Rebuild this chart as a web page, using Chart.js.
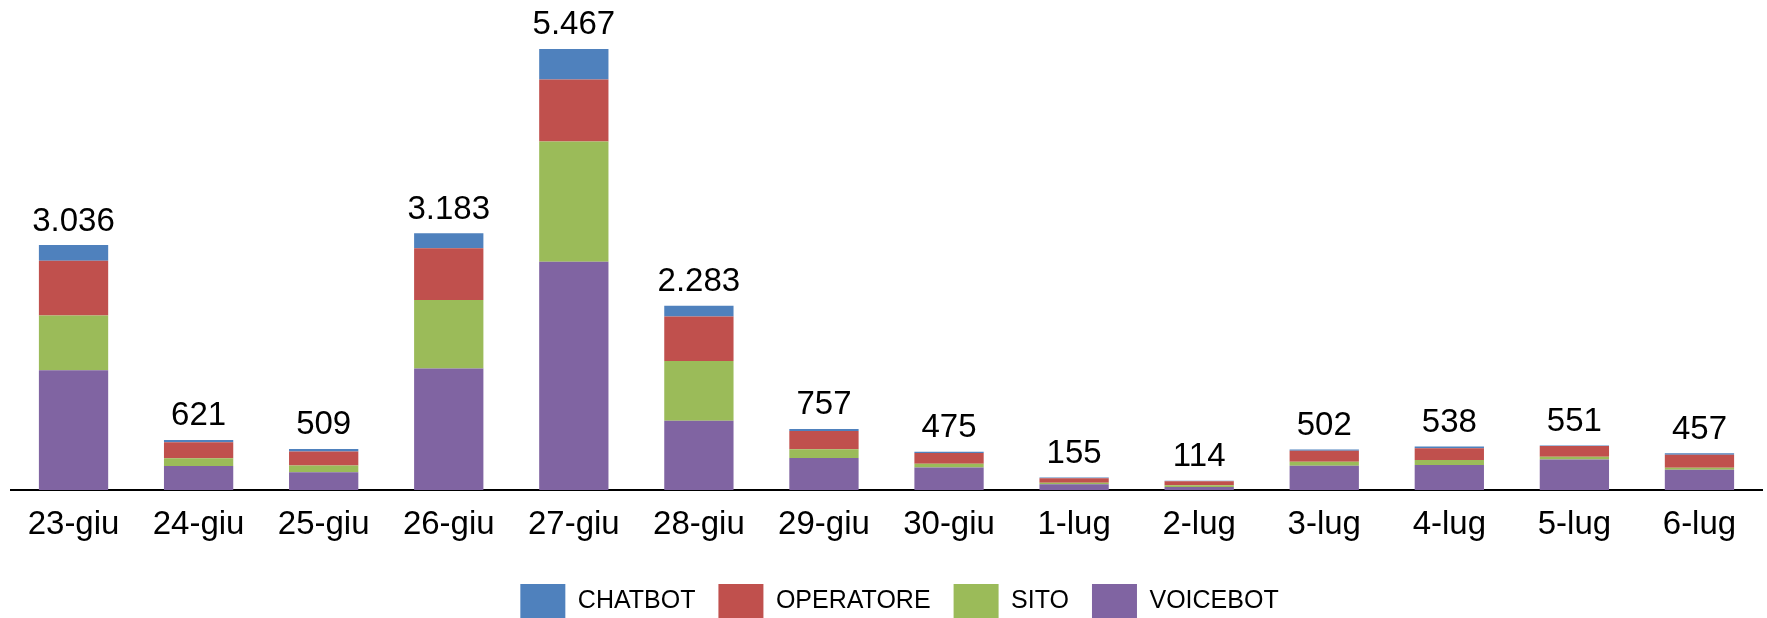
<!DOCTYPE html>
<html>
<head>
<meta charset="utf-8">
<style>
  html, body { margin: 0; padding: 0; background: #ffffff; }
  #wrap { width: 1767px; height: 618px; position: relative; }
</style>
<script src="https://cdn.jsdelivr.net/npm/chart.js@4/dist/chart.umd.min.js"></script>
</head>
<body>
<div id="wrap"><canvas id="c" width="1767" height="618"></canvas></div>
<script>
const categories = ['23-giu','24-giu','25-giu','26-giu','27-giu','28-giu','29-giu','30-giu','1-lug','2-lug','3-lug','4-lug','5-lug','6-lug'];
const chatbot   = [194, 30, 32, 186, 378, 133, 25, 17, 8, 6, 16, 20, 6, 20];
const operatore = [679, 198, 172, 642, 770, 551, 226, 134, 58, 48, 135, 145, 132, 160];
const sito      = [679, 96, 84, 849, 1491, 741, 110, 46, 17, 22, 51, 62, 34, 26];
const voicebot  = [1484, 297, 221, 1506, 2828, 858, 396, 278, 72, 38, 300, 311, 379, 251];
const yMin = 0;
const yMax = 6000;

const FONT = '"Liberation Sans", Arial, sans-serif';

function fmtIt(n) {
  return String(n).replace(/\B(?=(\d{3})+(?!\d))/g, '.');
}

const totalLabels = {
  id: 'totalLabels',
  afterDatasetsDraw(chart) {
    const ctx = chart.ctx;
    const n = chart.data.labels.length;
    ctx.save();
    ctx.font = '33px ' + FONT;
    ctx.fillStyle = '#000000';
    ctx.textAlign = 'center';
    ctx.textBaseline = 'alphabetic';
    for (let i = 0; i < n; i++) {
      let top = Infinity, x = 0, sum = 0;
      chart.data.datasets.forEach((ds, d) => {
        sum += ds.data[i];
        const el = chart.getDatasetMeta(d).data[i];
        if (el) { top = Math.min(top, el.y); x = el.x; }
      });
      ctx.fillText(fmtIt(sum), x, top - 14.5);
    }
    ctx.restore();
  }
};

const legendShift = {
  id: 'legendShift',
  afterLayout(chart) {
    const lg = chart.legend;
    if (lg) { lg.left += 13; lg.right += 13; }
  }
};

new Chart(document.getElementById('c'), {
  type: 'bar',
  data: {
    labels: categories,
    datasets: [
      { label: 'VOICEBOT',  data: voicebot,  backgroundColor: '#8064A2' },
      { label: 'SITO',      data: sito,      backgroundColor: '#9BBB59' },
      { label: 'OPERATORE', data: operatore, backgroundColor: '#C0504D' },
      { label: 'CHATBOT',   data: chatbot,   backgroundColor: '#4F81BD' }
    ]
  },
  options: {
    responsive: false,
    animation: false,
    devicePixelRatio: 1,
    layout: { padding: { top: 6, left: 11, right: 5, bottom: -10 } },
    datasets: { bar: { categoryPercentage: 1.0, barPercentage: 0.554, borderWidth: 0 } },
    scales: {
      x: {
        stacked: true,
        grid: { display: false, drawTicks: false },
        border: { display: true, color: '#000000', width: 2 },
        ticks: { color: '#000000', font: { family: FONT, size: 33 }, padding: 15, maxRotation: 0, autoSkip: false },
        afterFit: (s) => { s.height = 71; }
      },
      y: {
        stacked: true,
        display: false,
        min: yMin,
        max: yMax
      }
    },
    plugins: {
      legend: {
        position: 'bottom',
        reverse: true,
        labels: {
          boxWidth: 45,
          boxHeight: 34,
          padding: 23,
          color: '#000000',
          font: { family: FONT, size: 25 }
        }
      },
      tooltip: { enabled: false }
    }
  },
  plugins: [totalLabels, legendShift]
});
</script>
</body>
</html>
